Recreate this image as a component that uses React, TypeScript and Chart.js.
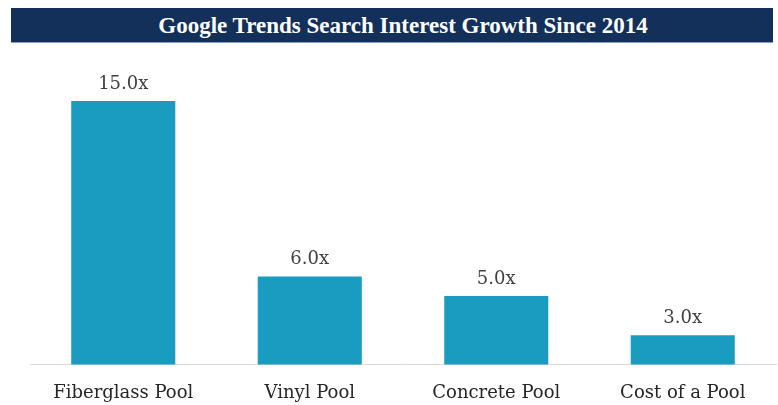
import { useEffect, useRef } from "react";
import { Chart, registerables } from "chart.js";

Chart.register(...registerables);

const categories = ["Fiberglass Pool", "Vinyl Pool", "Concrete Pool", "Cost of a Pool"];
const growthValues = [15, 6, 5, 3];
const valueLabels = ["15.0x", "6.0x", "5.0x", "3.0x"];
const titleText = "Google Trends Search Interest Growth Since 2014";

export default function App() {
  const ref = useRef<HTMLCanvasElement>(null);

  useEffect(() => {
    const labelPlugin = {
      id: "valueLabels",
      afterDatasetsDraw(chart: any) {
        const ctx = chart.ctx;
        const meta = chart.getDatasetMeta(0);
        ctx.save();
        ctx.font = "18px 'DejaVu Serif'";
        ctx.fillStyle = "#404040";
        ctx.textAlign = "center";
        ctx.textBaseline = "middle";
        meta.data.forEach((bar: any, i: number) => {
          ctx.fillText(valueLabels[i], bar.x, bar.y - 17);
        });
        ctx.restore();
      },
    };
    const chart = new Chart(ref.current as HTMLCanvasElement, {
      type: "bar",
      data: {
        labels: categories,
        datasets: [
          {
            data: growthValues,
            backgroundColor: "#1a9cc0",
            categoryPercentage: 1,
            barPercentage: 0.558,
          },
        ],
      },
      options: {
        responsive: false,
        animation: false,
        layout: { padding: { top: 60, left: 30, right: 2, bottom: -17 } },
        plugins: { legend: { display: false }, tooltip: { enabled: false } },
        scales: {
          x: {
            grid: { display: false, drawTicks: false },
            border: { display: true, color: "#d9d9d9", width: 1 },
            ticks: {
              color: "#262626",
              font: { family: "'DejaVu Serif'", size: 18 },
              padding: 18,
              maxRotation: 0,
            },
          },
          y: { display: false, min: 1.5, max: 17.1 },
        },
      },
      plugins: [labelPlugin],
    });
    return () => chart.destroy();
  }, []);

  return (
    <div style={{ position: "absolute", left: 0, top: 0, width: 778, height: 405, background: "#fff" }}>
      <div
        style={{
          position: "absolute",
          left: 11,
          top: 8,
          width: 762,
          height: 35,
          background: "#13305a",
          borderBottom: "1px solid #8a9ab8",
          color: "#fff",
          font: "bold 23px 'Liberation Serif'",
          lineHeight: "35px",
          textAlign: "center",
          paddingLeft: 22,
          boxSizing: "border-box",
        }}
      >
        {titleText}
      </div>
      <canvas
        ref={ref}
        width={778}
        height={405}
        style={{ position: "absolute", left: 0, top: 0, width: 778, height: 405 }}
      />
    </div>
  );
}
